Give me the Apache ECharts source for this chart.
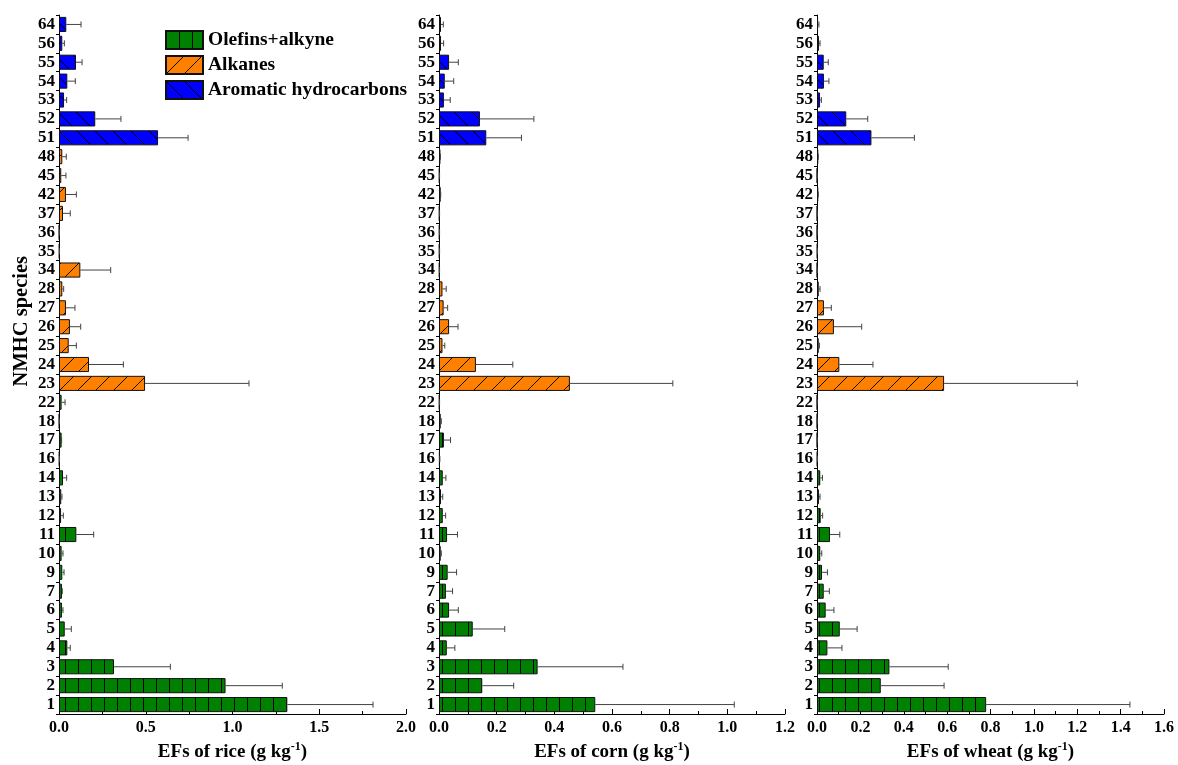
<!DOCTYPE html>
<html>
<head>
<meta charset="utf-8">
<script src="https://cdn.jsdelivr.net/npm/echarts@6/dist/echarts.min.js"></script>
<style>
  html, body { margin: 0; padding: 0; background: #fff; }
  #chart { width: 1178px; height: 765px; }
</style>
</head>
<body>
<div id="chart"></div>
<script>
// NMHC species, bottom to top
const species = ['1', '2', '3', '4', '5', '6', '7', '9', '10', '11', '12', '13', '14', '16', '17', '18', '22',
  '23', '24', '25', '26', '27', '28', '34', '35', '36', '37', '42', '45', '48',
  '51', '52', '53', '54', '55', '56', '64']
// 0 = olefins+alkyne, 1 = alkanes, 2 = aromatics
const speciesGroup = [0, 0, 0, 0, 0, 0, 0, 0, 0, 0, 0, 0, 0, 0, 0, 0, 0,
  1, 1, 1, 1, 1, 1, 1, 1, 1, 1, 1, 1, 1,
  2, 2, 2, 2, 2, 2, 2]
const groupNames = ['Olefins+alkyne', 'Alkanes', 'Aromatic hydrocarbons']

const riceEF = [1.316, 0.96, 0.317, 0.048, 0.033, 0.017, 0.017, 0.019, 0.015, 0.1, 0.012, 0.013, 0.023, 0.003, 0.015, 0.002, 0.015,
  0.496, 0.173, 0.056, 0.063, 0.04, 0.019, 0.123, 0.003, 0.002, 0.023, 0.04, 0.013, 0.019,
  0.571, 0.209, 0.029, 0.048, 0.098, 0.019, 0.042]
const riceSD = [0.494, 0.327, 0.325, 0.017, 0.038, 0.006, 0.002, 0.01, 0.008, 0.1, 0.013, 0.004, 0.021, 0, 0, 0, 0.02,
  0.599, 0.198, 0.044, 0.062, 0.052, 0.008, 0.175, 0, 0, 0.042, 0.06, 0.027, 0.023,
  0.173, 0.148, 0.015, 0.046, 0.035, 0.012, 0.085]

const cornEF = [0.542, 0.15, 0.342, 0.027, 0.117, 0.035, 0.024, 0.03, 0.006, 0.028, 0.013, 0.007, 0.013, 0.003, 0.017, 0.006, 0.002,
  0.454, 0.128, 0.012, 0.035, 0.016, 0.012, 0.002, 0.002, 0.002, 0.002, 0.006, 0.002, 0.005,
  0.164, 0.142, 0.017, 0.02, 0.035, 0.007, 0.007]
const cornSD = [0.482, 0.109, 0.296, 0.028, 0.111, 0.032, 0.023, 0.031, 0.002, 0.036, 0.01, 0.006, 0.011, 0, 0.023, 0.002, 0,
  0.357, 0.128, 0.008, 0.031, 0.014, 0.013, 0, 0, 0, 0, 0, 0, 0,
  0.122, 0.187, 0.022, 0.031, 0.032, 0.009, 0.008]

const wheatEF = [0.78, 0.294, 0.334, 0.048, 0.105, 0.04, 0.031, 0.023, 0.015, 0.06, 0.017, 0.009, 0.015, 0.002, 0.001, 0.001, 0.001,
  0.586, 0.103, 0.008, 0.078, 0.032, 0.008, 0.001, 0.002, 0.001, 0.001, 0.006, 0.001, 0.006,
  0.251, 0.135, 0.014, 0.032, 0.031, 0.009, 0.005]
const wheatSD = [0.663, 0.292, 0.271, 0.067, 0.08, 0.038, 0.026, 0.025, 0.007, 0.045, 0.009, 0.005, 0.01, 0, 0, 0, 0,
  0.614, 0.155, 0.003, 0.128, 0.034, 0.006, 0, 0, 0, 0, 0, 0, 0,
  0.198, 0.099, 0.006, 0.023, 0.021, 0.005, 0.004]

const crops = [
  { name: 'rice', ef: riceEF, sd: riceSD, max: 2.0, interval: 0.5 },
  { name: 'corn', ef: cornEF, sd: cornSD, max: 1.2, interval: 0.2 },
  { name: 'wheat', ef: wheatEF, sd: wheatSD, max: 1.6, interval: 0.2 }
]

// hatch patterns
function makePattern(fill, kind) {
  const c = document.createElement('canvas')
  const w = kind === 'v' ? 13 : 18
  const h = kind === 'v' ? 13 : 18
  c.width = w
  c.height = h
  const ctx = c.getContext('2d')
  ctx.fillStyle = fill
  ctx.fillRect(0, 0, w, h)
  ctx.strokeStyle = '#000'
  ctx.lineWidth = 1
  ctx.beginPath()
  if (kind === 'v') {
    ctx.moveTo(0.5, 0)
    ctx.lineTo(0.5, h)
  } else if (kind === 'f') {
    ctx.moveTo(-1, h + 1)
    ctx.lineTo(w + 1, -1)
  } else {
    ctx.moveTo(-1, -1)
    ctx.lineTo(w + 1, h + 1)
  }
  ctx.stroke()
  return { image: c, repeat: 'repeat' }
}
const patterns = [
  makePattern('#008000', 'v'),
  makePattern('#ff8000', 'f'),
  makePattern('#0000ff', 'b')
]

const chart = echarts.init(document.getElementById('chart'))
const serif = 'Liberation Serif, Times New Roman, serif'
const grids = [
  { left: 59, width: 347, top: 15, height: 699, outerBoundsMode: 'none' },
  { left: 439, width: 346, top: 15, height: 699, outerBoundsMode: 'none' },
  { left: 817, width: 347, top: 15, height: 699, outerBoundsMode: 'none' }
]

const xAxes = []
const yAxes = []
const series = []
crops.forEach((crop, k) => {
  xAxes.push({
    gridIndex: k,
    type: 'value',
    min: 0,
    max: crop.max,
    interval: crop.interval,
    name: '{a|EFs of ' + crop.name + ' (g kg}{s|-1}{a|)}',
    nameLocation: 'middle',
    nameGap: 27,
    nameTextStyle: {
      rich: {
        a: { fontFamily: serif, fontWeight: 'bold', fontSize: 19, color: '#000' },
        s: { fontFamily: serif, fontWeight: 'bold', fontSize: 12, color: '#000', padding: [0, 0, 10, 0] }
      }
    },
    axisLine: { show: true, lineStyle: { color: '#000', width: 1 } },
    axisTick: { show: true, inside: true, length: 5, lineStyle: { color: '#000' } },
    minorTick: { show: true, splitNumber: 2, length: 3, lineStyle: { color: '#000' } },
    splitLine: { show: false },
    axisLabel: {
      fontFamily: serif, fontWeight: 'bold', fontSize: 16, color: '#000', margin: 6,
      formatter: v => v.toFixed(1)
    }
  })
  yAxes.push({
    gridIndex: k,
    type: 'category',
    data: species,
    axisLine: { show: true, lineStyle: { color: '#000', width: 1 } },
    axisTick: { show: true, length: 3, lineStyle: { color: '#000' } },
    axisLabel: { fontFamily: serif, fontWeight: 'bold', fontSize: 17, color: '#000', margin: 4, interval: 0 }
  })
  groupNames.forEach((g, gi) => {
    series.push({
      name: g,
      type: 'bar',
      xAxisIndex: k,
      yAxisIndex: k,
      barCategoryGap: '20%',
      barGap: '-100%',
      itemStyle: { color: patterns[gi], borderColor: '#111', borderWidth: 1 },
      data: crop.ef.map((v, i) => (speciesGroup[i] === gi ? v : '-'))
    })
  })
  // error bars
  series.push({
    type: 'custom',
    xAxisIndex: k,
    yAxisIndex: k,
    z: 5,
    renderItem: function(params, api) {
      const y = api.value(0)
      const v = api.value(1)
      const e = api.value(2)
      const p0 = api.coord([v, y])
      const p1 = api.coord([v + e, y])
      const style = { stroke: '#444', lineWidth: 1 }
      return {
        type: 'group',
        children: [
          { type: 'line', shape: { x1: p0[0], y1: p0[1], x2: p1[0], y2: p1[1] }, style: style },
          { type: 'line', shape: { x1: p1[0], y1: p1[1] - 3, x2: p1[0], y2: p1[1] + 3 }, style: style }
        ]
      }
    },
    encode: { y: 0, x: [1, 2] },
    data: species.map((s, i) => [i, crop.ef[i], crop.sd[i]])
  })
})

const option = {
  animation: false,
  backgroundColor: '#fff',
  grid: grids,
  xAxis: xAxes,
  yAxis: yAxes,
  legend: {
    data: groupNames,
    orient: 'vertical',
    icon: 'rect',
    left: 160,
    top: 25,
    itemWidth: 37,
    itemHeight: 18,
    itemGap: 5,
    textStyle: { fontFamily: serif, fontWeight: 'bold', fontSize: 19.5, color: '#000' }
  },
  graphic: [{
    type: 'text',
    left: 11,
    top: 256,
    rotation: Math.PI / 2,
    style: { text: 'NMHC species', font: 'bold 20.5px ' + serif, fill: '#000' }
  }],
  series: series
}
chart.setOption(option)
</script>
</body>
</html>
